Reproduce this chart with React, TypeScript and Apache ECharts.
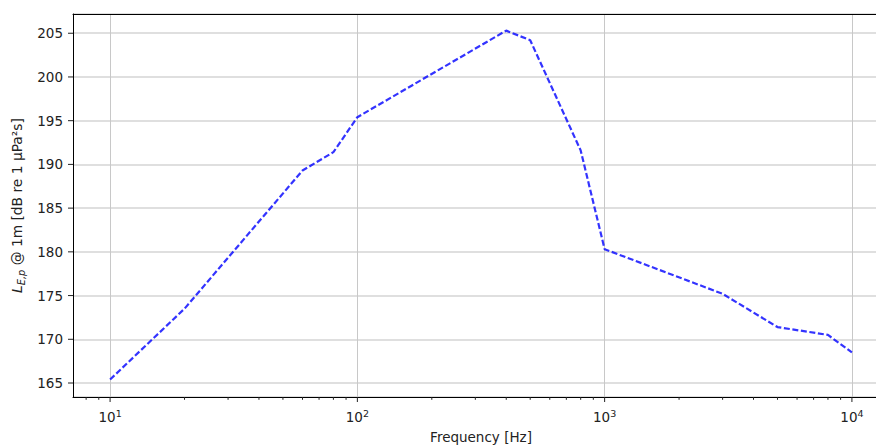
import React, { useEffect, useRef } from 'react';
import * as echarts from 'echarts';

// Frequency [Hz] and level [dB re 1 µPa²s]
const freqs = [10, 20, 60, 80, 100, 400, 500, 800, 1000, 3000, 5000, 8000, 10000];
const levels = [165.4, 173.5, 189.3, 191.4, 195.4, 205.3, 204.2, 191.6, 180.3, 175.2, 171.4, 170.5, 168.5];

// Axis ticks
const xMajorTicks = [10, 100, 1000, 10000];
const xMinorTicks = [
  8, 9,
  20, 30, 40, 50, 60, 70, 80, 90,
  200, 300, 400, 500, 600, 700, 800, 900,
  2000, 3000, 4000, 5000, 6000, 7000, 8000, 9000,
];
const yTicks = [165, 170, 175, 180, 185, 190, 195, 200, 205];

const xAxisTitle = 'Frequency [Hz]';
const yAxisTitle = '{it|L}{sub|E,p}{n| @ 1m [dB re 1 µPa²s]}';

const FONT = 'DejaVu Sans';
const TEXT = '#222';

export default function App() {
  const ref = useRef<HTMLDivElement>(null);

  useEffect(() => {
    document.body.style.margin = '0';
    if (!ref.current) return;
    const chart = echarts.init(ref.current, undefined, { renderer: 'svg' });

    const xMin = Math.pow(10, 0.85);
    const xMax = Math.pow(10, 4.15);
    const yMin = 163.4;
    const yMax = 207.2;

    const isPow10 = (v: number) => {
      const l = Math.log10(v);
      return Math.abs(l - Math.round(l)) < 1e-6;
    };

    const xTick = (len: number) => (params: any, api: any) => {
      const cs = params.coordSys;
      const x = api.coord([api.value(0), api.value(1)])[0];
      const y = cs.y + cs.height;
      return {
        type: 'line',
        shape: { x1: x, y1: y, x2: x, y2: y + len },
        style: { stroke: TEXT, lineWidth: 1 },
      };
    };
    const yTick = (len: number) => (params: any, api: any) => {
      const cs = params.coordSys;
      const y = api.coord([api.value(0), api.value(1)])[1];
      const x = cs.x;
      return {
        type: 'line',
        shape: { x1: x - len, y1: y, x2: x, y2: y },
        style: { stroke: TEXT, lineWidth: 1 },
      };
    };

    chart.setOption({
      animation: false,
      backgroundColor: '#ffffff',
      textStyle: { fontFamily: FONT },
      grid: { left: 73, top: 14, right: 1, bottom: 49, containLabel: false, outerBoundsMode: 'none' },
      xAxis: [
        {
          type: 'log',
          logBase: 10,
          min: xMin,
          max: xMax,
          name: xAxisTitle,
          nameLocation: 'middle',
          nameGap: 33,
          nameTextStyle: { fontFamily: FONT, fontSize: 13.5, color: TEXT },
          axisLine: { show: true, onZero: false, lineStyle: { color: '#000', width: 1 } },
          axisTick: { show: false },
          axisLabel: {
            show: true,
            margin: 11,
            formatter: (v: number) =>
              isPow10(v) ? `{b|10}{s|${Math.round(Math.log10(v))}}` : '',
            rich: {
              b: { fontFamily: FONT, fontSize: 13.5, color: TEXT, lineHeight: 16, verticalAlign: 'bottom' },
              s: { fontFamily: FONT, fontSize: 9.5, color: TEXT, lineHeight: 8, verticalAlign: 'top' },
            },
          },
          splitLine: { show: true, lineStyle: { color: '#c8c8c8', width: 1 } },
          minorTick: { show: false },
          minorSplitLine: { show: false },
        },
        {
          type: 'log',
          logBase: 10,
          min: xMin,
          max: xMax,
          position: 'top',
          axisLine: { show: true, onZero: false, lineStyle: { color: '#000', width: 1 } },
          axisTick: { show: false },
          axisLabel: { show: false },
          splitLine: { show: false },
        },
      ],
      yAxis: {
        type: 'value',
        min: yMin,
        max: yMax,
        splitNumber: 9,
        name: yAxisTitle,
        nameLocation: 'middle',
        nameRotate: 90,
        nameGap: 35,
        nameTextStyle: {
          fontFamily: FONT,
          color: TEXT,
          rich: {
            it: { fontFamily: FONT, fontSize: 13.8, fontStyle: 'italic', color: TEXT, lineHeight: 18, verticalAlign: 'middle' },
            sub: { fontFamily: FONT, fontSize: 9.8, fontStyle: 'italic', color: TEXT, lineHeight: 10, verticalAlign: 'bottom' },
            n: { fontFamily: FONT, fontSize: 13.8, color: TEXT, lineHeight: 18, verticalAlign: 'middle' },
          },
        },
        axisLine: { show: true, onZero: false, lineStyle: { color: '#000', width: 1 } },
        axisTick: { show: false },
        axisLabel: {
          show: true,
          margin: 10,
          fontFamily: FONT,
          fontSize: 13.5,
          color: TEXT,
          formatter: (v: number) => (Math.abs(v % 5) < 1e-6 ? String(v) : ''),
        },
        splitLine: { show: true, lineStyle: { color: '#d4d4d4', width: 1.6 } },
      },
      series: [
        {
          type: 'line',
          data: freqs.map((f, i) => [f, levels[i]]),
          symbol: 'none',
          lineStyle: { color: 'rgba(0,0,255,0.8)', width: 2.2, type: [6, 2.6] },
          z: 5,
        },
        {
          type: 'custom',
          clip: false,
          silent: true,
          renderItem: xTick(5),
          encode: { x: 0, y: 1 },
          data: xMajorTicks.map((f) => [f, yTicks[0]]),
          z: 6,
        },
        {
          type: 'custom',
          clip: false,
          silent: true,
          renderItem: xTick(2.8),
          encode: { x: 0, y: 1 },
          data: xMinorTicks.map((f) => [f, yTicks[0]]),
          z: 6,
        },
        {
          type: 'custom',
          clip: false,
          silent: true,
          renderItem: yTick(5),
          encode: { x: 0, y: 1 },
          data: yTicks.map((v) => [xMajorTicks[0], v]),
          z: 6,
        },
      ],
    });

    return () => chart.dispose();
  }, []);

  return (
    <div style={{ width: 876, height: 446, overflow: 'hidden', position: 'relative' }}>
      <div ref={ref} style={{ width: 890, height: 446 }} />
    </div>
  );
}
